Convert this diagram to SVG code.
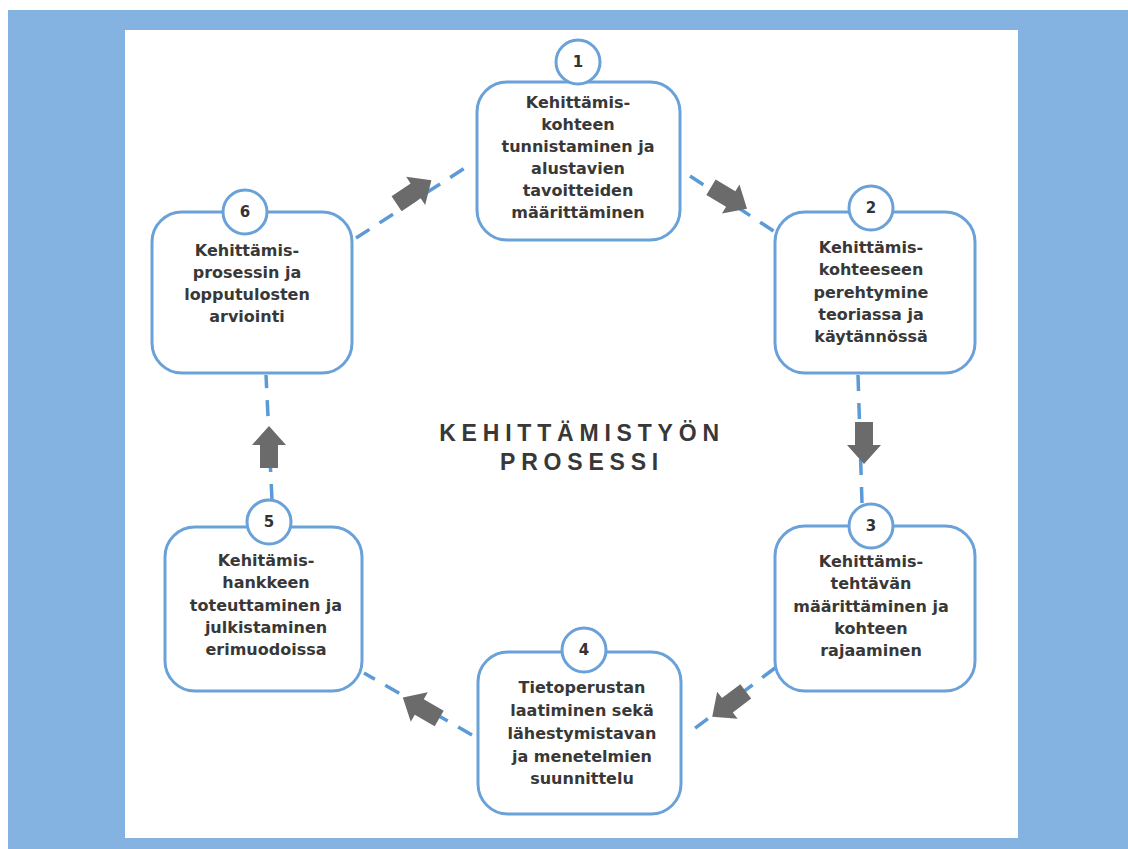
<svg xmlns="http://www.w3.org/2000/svg" width="1128" height="849" viewBox="0 0 1128 849">
  <style>
    .box{fill:#ffffff;stroke:#6aa1d8;stroke-width:3}
    .num{fill:#ffffff;stroke:#6aa1d8;stroke-width:3}
    .t{font-family:"DejaVu Sans",sans-serif;font-weight:bold;font-size:16px;fill:#383838;text-anchor:middle}
    .n{font-family:"DejaVu Sans",sans-serif;font-weight:bold;font-size:15px;fill:#333;text-anchor:middle}
    .title{font-family:"Liberation Sans",Arial,sans-serif;font-weight:bold;font-size:23px;letter-spacing:5.8px;fill:#383838;text-anchor:middle}
    .dash{fill:none;stroke:#5b9ad6;stroke-width:3.5;stroke-dasharray:16 12}
    .arr{fill:#6b6b6b}
  </style>
  <defs>
    <path id="arrow" d="M-21,-9 L2,-9 L2,-17 L21,0 L2,17 L2,9 L-21,9 Z"/>
  </defs>
  <rect x="0" y="0" width="1128" height="849" fill="#ffffff"/>
  <rect x="8" y="10" width="1120" height="839" fill="#84b2e1"/>
  <rect x="125" y="30" width="893" height="808" fill="#ffffff"/>
  <text class="title" x="582" y="441">KEHITTÄMISTYÖN</text>
  <text class="title" x="582" y="470">PROSESSI</text>
  <g id="connectors">
    <line class="dash" x1="356" y1="238" x2="468" y2="166"/>
    <use href="#arrow" class="arr" transform="translate(414,192) rotate(-34)"/>
    <line class="dash" x1="690" y1="176" x2="775" y2="232"/>
    <use href="#arrow" class="arr" transform="translate(729,198) rotate(31)"/>
    <line class="dash" x1="858" y1="375" x2="862" y2="503"/>
    <use href="#arrow" class="arr" transform="translate(864,443) rotate(90)"/>
    <line class="dash" x1="775" y1="668" x2="690" y2="732"/>
    <use href="#arrow" class="arr" transform="translate(729,704) rotate(143)"/>
    <line class="dash" x1="472" y1="735" x2="364" y2="673"/>
    <use href="#arrow" class="arr" transform="translate(421,708) rotate(-150)"/>
    <line class="dash" x1="272" y1="500" x2="266" y2="375"/>
    <use href="#arrow" class="arr" transform="translate(269,447) rotate(-90)"/>
  </g>
  <g id="node1">
    <rect class="box" x="477" y="82" width="203" height="158" rx="30"/>
    <circle class="num" cx="578" cy="62" r="22"/>
    <text class="n" x="578" y="67">1</text>
    <text class="t" x="578" y="108">Kehittämis-</text>
    <text class="t" x="578" y="130">kohteen</text>
    <text class="t" x="578" y="152">tunnistaminen ja</text>
    <text class="t" x="578" y="174">alustavien</text>
    <text class="t" x="578" y="196">tavoitteiden</text>
    <text class="t" x="578" y="218">määrittäminen</text>
  </g>
  <g id="node2">
    <rect class="box" x="775" y="212" width="200" height="161" rx="30"/>
    <circle class="num" cx="871" cy="208" r="22"/>
    <text class="n" x="871" y="213">2</text>
    <text class="t" x="871" y="253">Kehittämis-</text>
    <text class="t" x="871" y="275">kohteeseen</text>
    <text class="t" x="871" y="298">perehtymine</text>
    <text class="t" x="871" y="320">teoriassa ja</text>
    <text class="t" x="871" y="342">käytännössä</text>
  </g>
  <g id="node3">
    <rect class="box" x="775" y="526" width="200" height="165" rx="30"/>
    <circle class="num" cx="871" cy="526" r="22"/>
    <text class="n" x="871" y="531">3</text>
    <text class="t" x="871" y="567">Kehittämis-</text>
    <text class="t" x="871" y="589">tehtävän</text>
    <text class="t" x="871" y="612">määrittäminen ja</text>
    <text class="t" x="871" y="634">kohteen</text>
    <text class="t" x="871" y="656">rajaaminen</text>
  </g>
  <g id="node4">
    <rect class="box" x="478" y="652" width="203" height="162" rx="30"/>
    <circle class="num" cx="584" cy="650" r="22"/>
    <text class="n" x="584" y="655">4</text>
    <text class="t" x="582" y="693">Tietoperustan</text>
    <text class="t" x="582" y="716">laatiminen sekä</text>
    <text class="t" x="582" y="739">lähestymistavan</text>
    <text class="t" x="582" y="762">ja menetelmien</text>
    <text class="t" x="582" y="784">suunnittelu</text>
  </g>
  <g id="node5">
    <rect class="box" x="165" y="527" width="197" height="164" rx="30"/>
    <circle class="num" cx="269" cy="522" r="22"/>
    <text class="n" x="269" y="527">5</text>
    <text class="t" x="266" y="566">Kehitämis-</text>
    <text class="t" x="266" y="588">hankkeen</text>
    <text class="t" x="266" y="611">toteuttaminen ja</text>
    <text class="t" x="266" y="633">julkistaminen</text>
    <text class="t" x="266" y="655">erimuodoissa</text>
  </g>
  <g id="node6">
    <rect class="box" x="152" y="212" width="200" height="161" rx="30"/>
    <circle class="num" cx="245" cy="212" r="22"/>
    <text class="n" x="245" y="217">6</text>
    <text class="t" x="247" y="256">Kehittämis-</text>
    <text class="t" x="247" y="278">prosessin ja</text>
    <text class="t" x="247" y="300">lopputulosten</text>
    <text class="t" x="247" y="322">arviointi</text>
  </g>
</svg>
